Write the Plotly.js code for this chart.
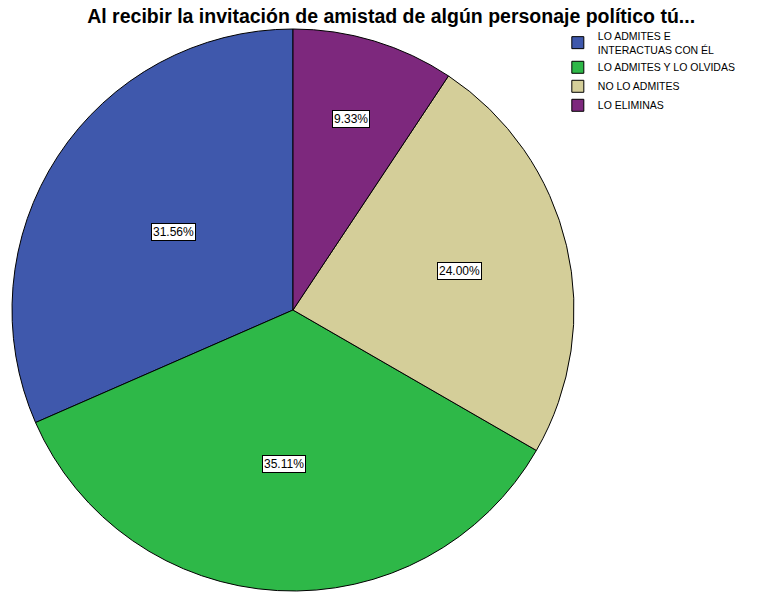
<!DOCTYPE html>
<html>
<head>
<meta charset="utf-8">
<script src="https://cdn.plot.ly/plotly-3.0.1.min.js"></script>
<style>html,body{margin:0;padding:0;background:#fff;}#chart{width:761px;height:592px;}</style>
</head>
<body>
<div id="chart"></div>
<script>
const categories = ["LO ADMITES E<br>INTERACTUAS CON ÉL", "LO ADMITES Y LO OLVIDAS", "NO LO ADMITES", "LO ELIMINAS"];
const percentages = [31.56, 35.11, 24.00, 9.33];
const sliceColors = ["#3F58AC", "#2EB848", "#D4CE99", "#7D287D"];
const labelRadius = [0.51, 0.55, 0.61, 0.71];

const W = 761, H = 592;
const cx = 293, cy = 310, R = 281;
const domX = [(cx - R) / W, (cx + R) / W];
const domY = [1 - (cy + R) / H, 1 - (cy - R) / H];

const total = percentages.reduce((a, b) => a + b, 0);
const annotations = [];
let cum = 0;
percentages.forEach((v, i) => {
  const mid = (cum + v / 2) / total * 2 * Math.PI; // counterclockwise from 12 o'clock
  cum += v;
  const d = labelRadius[i] * R;
  const px = cx - Math.sin(mid) * d;
  const py = cy - Math.cos(mid) * d;
  annotations.push({
    x: px / W, y: 1 - py / H, xref: 'paper', yref: 'paper',
    xanchor: 'center', yanchor: 'middle',
    text: v.toFixed(2) + '%', showarrow: false,
    font: {family: 'Liberation Sans, Arial, sans-serif', size: 12, color: '#000'},
    bgcolor: '#fff', bordercolor: '#000', borderwidth: 1, borderpad: 1
  });
});

// Plotly's counterclockwise mode places the first slice clockwise of the start angle;
// rotate so the first slice begins at 12 o'clock and runs counterclockwise.
const rotation = -percentages[0] / total * 360;

const trace = {
  type: 'pie',
  labels: categories,
  values: percentages,
  sort: false,
  direction: 'counterclockwise',
  rotation: rotation,
  marker: {colors: sliceColors, line: {color: '#000', width: 1}},
  textinfo: 'none',
  hoverinfo: 'label+percent',
  domain: {x: domX, y: domY}
};

const layout = {
  width: W, height: H,
  margin: {l: 0, r: 0, t: 0, b: 0},
  paper_bgcolor: '#fff',
  title: {
    text: '<b>Al recibir la invitación de amistad de algún personaje político tú...</b>',
    font: {family: 'Liberation Sans, Arial, sans-serif', size: 19.5, color: '#000'},
    x: 0.514, xanchor: 'center', y: 0.972, yanchor: 'middle'
  },
  showlegend: true,
  legend: {
    x: 0.733, y: 0.962, xanchor: 'left', yanchor: 'top',
    font: {family: 'Liberation Sans, Arial, sans-serif', size: 10.5, color: '#000'},
    tracegroupgap: 0, itemwidth: 30, traceorder: 'normal',
    bgcolor: 'rgba(0,0,0,0)'
  },
  annotations: annotations
};

Plotly.newPlot('chart', [trace], layout, {displayModeBar: false, staticPlot: true});
</script>
</body>
</html>
